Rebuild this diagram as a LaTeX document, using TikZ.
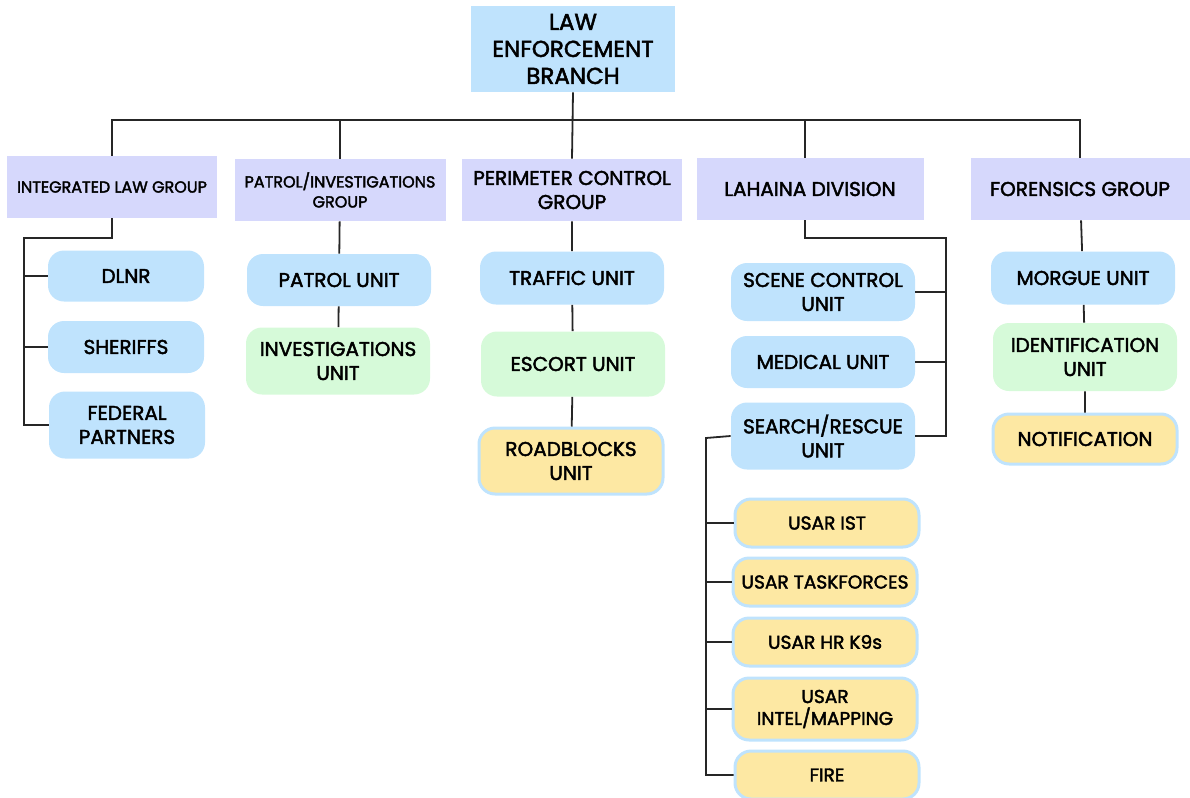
\documentclass[tikz,border=0pt]{standalone}
\usepackage{fontspec}
\setmainfont{Poppins}[UprightFeatures={FakeBold=2.2}]
\definecolor{unitblue}{HTML}{BFE3FD}
\definecolor{grouppurple}{HTML}{D6D8FC}
\definecolor{unitgreen}{HTML}{D6FAD9}
\definecolor{unityellow}{HTML}{FDE8A3}
\begin{document}
\begin{tikzpicture}[x=0.5pt,y=-0.5pt,
  every node/.style={align=center,inner sep=0pt,text=black},
  branch/.style={fill=unitblue,minimum width=102pt,minimum height=43pt,font=\fontsize{11.5}{13.5}\selectfont},
  group/.style={fill=grouppurple,minimum height=31pt,font=\fontsize{10}{12}\selectfont},
  unit/.style={fill=unitblue,rounded corners=8pt,minimum width=92pt,font=\fontsize{10}{12}\selectfont},
  gunit/.style={unit,fill=unitgreen},
  yunit/.style={unit,fill=unityellow,draw=unitblue,line width=1.5pt},
  link/.style={draw=black!85,line width=0.9pt}]
\useasboundingbox (0,0) rectangle (1190,798);

  \node[branch] (LEB) at (573,49) {LAW\\ENFORCEMENT\\BRANCH};

  \node[group,minimum width=105pt,font=\fontsize{8}{10}\selectfont] (ILG) at (112,187) {INTEGRATED LAW GROUP};
  \node[group,minimum width=105.5pt,font=\fontsize{8}{10}\selectfont] (PIG) at (340,190) {PATROL/INVESTIGATIONS\\GROUP};
  \node[group,minimum width=110pt] (PCG) at (572,190) {PERIMETER CONTROL\\GROUP};
  \node[group,minimum width=113.5pt] (LD) at (810,189) {LAHAINA DIVISION};
  \node[group,minimum width=109.5pt] (FG) at (1080,189) {FORENSICS GROUP};

  \coordinate (BUS) at (0,120);
  \coordinate (LDa) at (805,238);
  \draw[link] (ILG.north) |- (FG.north |- BUS) -- (FG.north);
  \draw[link] (LEB.south) -- (PCG.north);
  \draw[link] (PIG.north) -- (PIG.north |- BUS);
  \draw[link] (LD.north -| LDa) -- (LDa |- BUS);

  % integrated law group
  \node[unit,minimum width=78pt,minimum height=25.5pt] (DLNR) at (126,276) {DLNR};
  \node[unit,minimum width=78pt,minimum height=26pt] (SHER) at (126,347) {SHERIFFS};
  \node[unit,minimum width=78pt,minimum height=33.5pt] (FED) at (127,425) {FEDERAL\\PARTNERS};
  \coordinate (ILGa) at (112,238);
  \coordinate (ILGb) at (24,238);
  \draw[link] (ILG.south) -- (ILGa) -- (ILGb) |- (FED.west);
  \draw[link] (ILGb |- DLNR) -- (DLNR.west);
  \draw[link] (ILGb |- SHER) -- (SHER.west);

  % patrol / investigations
  \node[unit,minimum height=26pt] (PU) at (339,280) {PATROL UNIT};
  \node[gunit,minimum height=33.5pt] (IU) at (338,361) {INVESTIGATIONS\\UNIT};
  \draw[link] (PIG) -- (PU) -- (IU);

  % perimeter control
  \node[unit,minimum height=26.5pt] (TU) at (572,278) {TRAFFIC UNIT};
  \node[gunit,minimum height=32.5pt] (EU) at (573,364) {ESCORT UNIT};
  \node[yunit,minimum height=33pt] (RU) at (571,461) {ROADBLOCKS\\UNIT};
  \draw[link] (PCG) -- (TU) -- (EU) -- (RU);

  % lahaina division
  \node[unit,minimum height=29pt] (SCU) at (823,292) {SCENE CONTROL\\UNIT};
  \node[unit,minimum height=26pt] (MU) at (823,362) {MEDICAL UNIT};
  \node[unit,minimum height=33.5pt] (SRU) at (823,436) {SEARCH/RESCUE\\UNIT};
  \coordinate (LDb) at (946,238);
  \draw[link] (LD.south -| LDa) -- (LDa) -- (LDb) |- (SRU.east);
  \draw[link] (LDb |- SCU) -- (SCU.east);
  \draw[link] (LDb |- MU) -- (MU.east);

  \node[yunit,minimum height=24pt,font=\fontsize{9.3}{11}\selectfont] (IST) at (827,523) {USAR IST};
  \node[yunit,minimum height=24pt,font=\fontsize{9.3}{11}\selectfont] (TF) at (825,582) {USAR TASKFORCES};
  \node[yunit,minimum height=24pt,font=\fontsize{9.3}{11}\selectfont] (K9) at (825,642) {USAR HR K9s};
  \node[yunit,minimum height=31pt,font=\fontsize{9.3}{11}\selectfont] (IM) at (825,709) {USAR\\INTEL/MAPPING};
  \node[yunit,minimum height=24pt,font=\fontsize{9.3}{11}\selectfont] (FIRE) at (827,775) {FIRE};
  \coordinate (SRa) at (706,438);
  \draw[link] (SRU.west) -- (SRa) |- (FIRE.west);
  \draw[link] (SRa |- IST) -- (IST.west);
  \draw[link] (SRa |- TF) -- (TF.west);
  \draw[link] (SRa |- K9) -- (K9.west);
  \draw[link] (SRa |- IM) -- (IM.west);

  % forensics
  \node[unit,minimum height=26.5pt] (MOR) at (1083,278) {MORGUE UNIT};
  \node[gunit,minimum height=34pt] (ID) at (1085,357) {IDENTIFICATION\\UNIT};
  \node[yunit,minimum height=25pt] (NOT) at (1085,439) {NOTIFICATION};
  \draw[link] (FG) -- (MOR) -- (ID) -- (NOT);

\end{tikzpicture}
\end{document}
